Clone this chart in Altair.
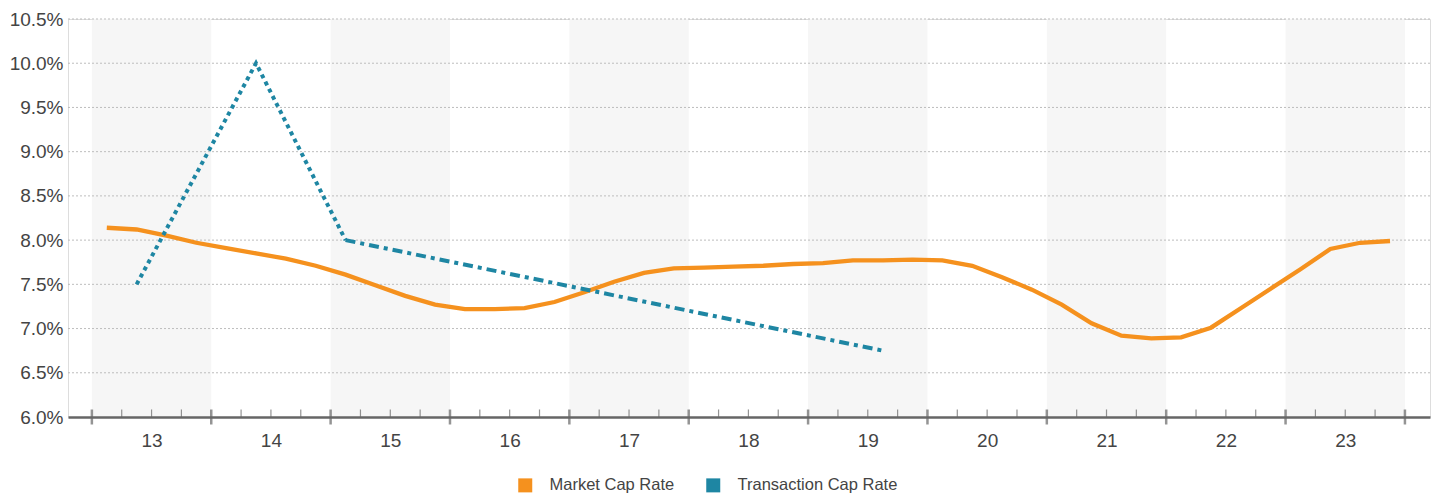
import altair as alt
import pandas as pd

# ---- data ----
years = [13, 14, 15, 16, 17, 18, 19, 20, 21, 22, 23]
quarters = [f"{y}Q{q}" for y in years for q in (1, 2, 3, 4)]

market_cap = [
    8.14, 8.12, 8.05, 7.97, 7.91, 7.85, 7.79, 7.71, 7.61, 7.49, 7.37, 7.27,
    7.22, 7.22, 7.23, 7.30, 7.41, 7.53, 7.63, 7.68, 7.69, 7.70, 7.71, 7.73,
    7.74, 7.77, 7.77, 7.78, 7.77, 7.71, 7.58, 7.44, 7.27, 7.06, 6.92, 6.89,
    6.90, 7.01, 7.23, 7.45, 7.67, 7.90, 7.97, 7.99,
]

trans_quarters = ["13Q2", "14Q2", "15Q1", "19Q3"]
trans_values = [7.5, 10.0, 8.0, 6.75]

y_ticks = [6.0, 6.5, 7.0, 7.5, 8.0, 8.5, 9.0, 9.5, 10.0, 10.5]
series_names = ["Market Cap Rate", "Transaction Cap Rate"]
series_colors = ["#F5911E", "#1E86A3"]

# ---- helpers: quarter label -> position on a year axis ----
def qpos(label):
    y, q = label.split("Q")
    return int(y) - 0.5 + (int(q) - 0.5) / 4.0

market_df = pd.DataFrame({"t": [qpos(q) for q in quarters], "v": market_cap})
trans_df = pd.DataFrame({"t": [qpos(q) for q in trans_quarters], "v": trans_values})
trans_a = trans_df.iloc[0:3]
trans_b = trans_df.iloc[2:4]

band_df = pd.DataFrame({"x0": [y - 0.5 for y in years[::2]], "x1": [y + 0.5 for y in years[::2]]})
major_df = pd.DataFrame({"t": [y - 0.5 for y in years] + [years[-1] + 0.5]})
minor_df = pd.DataFrame({"t": [y - 0.5 + k * 0.25 for y in years for k in (1, 2, 3)]})
grid_df = pd.DataFrame({"v": y_ticks[1:]})
legend_df = pd.DataFrame({"s": series_names})

xscale = alt.Scale(domain=[12.3, 23.71], nice=False, zero=False)
yscale = alt.Scale(domain=[6.0, 10.5], nice=False, zero=False)

FONT = "Liberation Sans"
TXT = "#444444"
AX = "#666666"

x_axis = alt.Axis(
    values=years, format="d", title=None, ticks=False, grid=False,
    domain=True, domainColor=AX, domainWidth=2.5, labelFontSize=19,
    labelColor=TXT, labelPadding=14, labelFont=FONT, zindex=1,
)
y_axis = alt.Axis(
    values=y_ticks, labelExpr="format(datum.value, '.1f') + '%'", title=None,
    ticks=False, grid=False, domain=False, labelFontSize=19, labelColor=TXT,
    labelPadding=5, labelFont=FONT,
)

bands = alt.Chart(band_df).mark_rect(color="#f6f6f6").encode(
    x=alt.X("x0:Q", scale=xscale, axis=x_axis),
    x2="x1:Q",
)

grid = alt.Chart(grid_df).mark_rule(color="#bdbdbd", strokeWidth=1, strokeDash=[2, 2]).encode(
    y=alt.Y("v:Q", scale=yscale, axis=y_axis),
)

major = alt.Chart(major_df).mark_tick(orient="vertical", color=AX, size=15, thickness=2.5).encode(
    x=alt.X("t:Q", scale=xscale),
    y=alt.datum(6.0, scale=yscale),
)
minor = alt.Chart(minor_df).mark_tick(orient="vertical", color=AX, size=7.5, thickness=1.2, yOffset=-3.8).encode(
    x=alt.X("t:Q", scale=xscale),
    y=alt.datum(6.0, scale=yscale),
)

market = alt.Chart(market_df).mark_line(color=series_colors[0], strokeWidth=4.3).encode(
    x=alt.X("t:Q", scale=xscale),
    y=alt.Y("v:Q", scale=yscale),
)
trans1 = alt.Chart(trans_a).mark_line(color=series_colors[1], strokeWidth=4, strokeDash=[4, 4]).encode(
    x=alt.X("t:Q", scale=xscale),
    y=alt.Y("v:Q", scale=yscale),
)
trans2 = alt.Chart(trans_b).mark_line(color=series_colors[1], strokeWidth=4, strokeDash=[10, 5, 4, 5]).encode(
    x=alt.X("t:Q", scale=xscale),
    y=alt.Y("v:Q", scale=yscale),
)

legend_layer = alt.Chart(legend_df).mark_square(opacity=0, size=196).encode(
    color=alt.Color(
        "s:N",
        scale=alt.Scale(domain=series_names, range=series_colors),
        legend=alt.Legend(
            orient="none", legendX=449, legendY=458, direction="horizontal",
            title=None, symbolType="square", symbolSize=196, symbolOpacity=1,
            symbolStrokeWidth=0, labelFontSize=16.5, labelColor=TXT, labelFont=FONT,
            labelOffset=16, columnPadding=30, padding=0,
        ),
    ),
)

chart = alt.layer(bands, grid, major, minor, market, trans1, trans2, legend_layer).properties(
    width=1362, height=398,
    padding={"left": 1, "top": 2, "right": 0, "bottom": 0},
).configure_view(stroke=None).configure(font=FONT)

chart.save("out.html", embed_options={"renderer": "svg", "actions": False})
